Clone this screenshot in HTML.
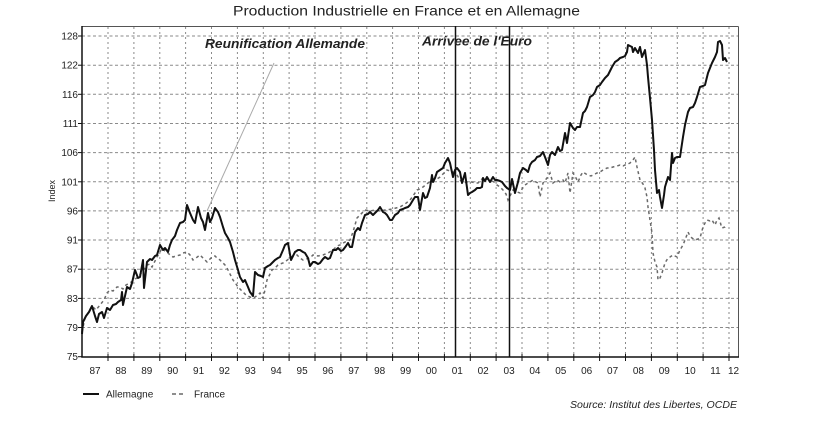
<!DOCTYPE html>
<html><head><meta charset="utf-8"><style>
html,body{margin:0;padding:0;background:#fff;}
svg{display:block;}
text{font-family:"Liberation Sans",Arial,sans-serif;fill:#222;}
</style></head><body>
<svg width="817" height="436" viewBox="0 0 817 436" xmlns="http://www.w3.org/2000/svg">
<rect width="817" height="436" fill="#fff"/>
<text x="406.5" y="15.5" font-size="14" text-anchor="middle" textLength="347" lengthAdjust="spacingAndGlyphs">Production Industrielle en France et en Allemagne</text>

<!-- horizontal grid -->
<g stroke="#8a8a8a" stroke-width="1" stroke-dasharray="3,2.5">
<line x1="82" y1="36" x2="738" y2="36"/>
<line x1="82" y1="65.2" x2="738" y2="65.2"/>
<line x1="82" y1="94.3" x2="738" y2="94.3"/>
<line x1="82" y1="123.5" x2="738" y2="123.5"/>
<line x1="82" y1="152.6" x2="738" y2="152.6"/>
<line x1="82" y1="181.8" x2="738" y2="181.8"/>
<line x1="82" y1="210.9" x2="738" y2="210.9"/>
<line x1="82" y1="240" x2="738" y2="240"/>
<line x1="82" y1="269.2" x2="738" y2="269.2"/>
<line x1="82" y1="298.4" x2="738" y2="298.4"/>
<line x1="82" y1="327.5" x2="738" y2="327.5"/>
</g>
<!-- vertical grid -->
<g stroke="#8a8a8a" stroke-width="1" stroke-dasharray="2,3" id="vg">
<line x1="108" y1="27" x2="108" y2="357"/>
<line x1="133.9" y1="27" x2="133.9" y2="357"/>
<line x1="159.8" y1="27" x2="159.8" y2="357"/>
<line x1="185.6" y1="27" x2="185.6" y2="357"/>
<line x1="211.5" y1="27" x2="211.5" y2="357"/>
<line x1="237.4" y1="27" x2="237.4" y2="357"/>
<line x1="263.3" y1="27" x2="263.3" y2="357"/>
<line x1="289.1" y1="27" x2="289.1" y2="357"/>
<line x1="315" y1="27" x2="315" y2="357"/>
<line x1="340.9" y1="27" x2="340.9" y2="357"/>
<line x1="366.8" y1="27" x2="366.8" y2="357"/>
<line x1="392.6" y1="27" x2="392.6" y2="357"/>
<line x1="418.5" y1="27" x2="418.5" y2="357"/>
<line x1="444.4" y1="27" x2="444.4" y2="357"/>
<line x1="470.3" y1="27" x2="470.3" y2="357"/>
<line x1="496.1" y1="27" x2="496.1" y2="357"/>
<line x1="522" y1="27" x2="522" y2="357"/>
<line x1="547.9" y1="27" x2="547.9" y2="357"/>
<line x1="573.8" y1="27" x2="573.8" y2="357"/>
<line x1="599.6" y1="27" x2="599.6" y2="357"/>
<line x1="625.5" y1="27" x2="625.5" y2="357"/>
<line x1="651.4" y1="27" x2="651.4" y2="357"/>
<line x1="677.3" y1="27" x2="677.3" y2="357"/>
<line x1="703.1" y1="27" x2="703.1" y2="357"/>
<line x1="729" y1="27" x2="729" y2="357"/>
</g>

<!-- borders -->
<line x1="82" y1="26.5" x2="738.5" y2="26.5" stroke="#555" stroke-width="1"/>
<line x1="738.5" y1="26.5" x2="738.5" y2="357" stroke="#555" stroke-width="1"/>

<!-- annotation line -->
<line x1="207" y1="211" x2="274" y2="63" stroke="#aaa" stroke-width="1"/>

<!-- France -->
<polyline fill="none" stroke="#6a6a6a" stroke-width="1.5" stroke-dasharray="3,3" points="82,332 85,318 88,313 92,306 96,310 100,305 104,300 107,293 110,290 113,291 117,287 120,287 123,289 126,285 130,283 134,280 138,277 142,272 145,268 147,265 150,264 152,267 155,261 157,257 160,252 162,248 165,251 167,252 170,255 173,257 176,256 180,255 183,253 187,252 190,255 193,260 196,258 200,255 203,258 207,262 210,259 212,257 215,256 217,258 220,260 222,262 225,265 227,268 230,274 233,280 236,284 238,287 241,290 243,292 246,295 250,297 253,298 255,297 258,295 260,293 262,297 263,298 265,290 267,280 270,274 272,270 275,268 278,265 280,264 283,263 286,261 290,258 293,256 297,255 300,258 303,260 306,259 310,258 313,255 318,256 323,255 328,253 333,250 337,246 340,245 345,242 350,240 353,232 357,218 360,215 365,210 370,211 375,210 380,211 385,210 387,210 392,209 396,208 400,207 405,204 410,200 413,196 417,190 420,189 423,187 428,183 433,180 437,179 440,177 443,174 447,170 450,171 453,172 457,175 460,180 463,183 467,182 472,182 475,183 478,183 481,180 483,178 487,179 490,180 494,182 497,185 500,187 503,190 506,194 508,200 510,196 513,190 517,192 520,193 522,189 525,185 528,183 530,182 533,180 536,182 538,183 540,197 543,183 547,178 550,173 553,183 557,180 560,182 563,180 565,183 568,173 570,193 573,173 576,178 578,182 581,175 583,172 586,174 588,175 591,176 593,175 597,173 600,172 603,170 607,168 610,168 613,167 617,166 620,165 623,166 625,165 628,164 630,163 633,160 635,157 637,167 640,180 643,184 645,188 647,197 648,207 650,220 652,233 653,253 655,262 657,267 658,280 660,278 662,273 665,263 668,258 670,257 673,255 675,256 677,257 680,250 683,245 685,240 688,232 690,236 692,238 695,240 698,239 700,238 703,227 705,223 707,220 710,221 712,220 715,225 717,220 719,218 721,225 722,228 725,227 727,225"/>

<!-- Allemagne -->
<polyline fill="none" stroke="#111" stroke-width="2" stroke-linejoin="round" points="82,334 83,322 86,316 89,312 92,306 95,316 97,322 99,314 102,312 104,318 107,308 110,310 113,305 116,304 118,302 121,300 122,292 123,305 125,296 127,287 130,289 132,283 135,270 138,278 140,277 143,260 144,288 147,262 150,259 152,260 155,256 157,255 160,245 163,250 165,248 168,252 170,245 172,240 175,236 177,230 180,223 183,222 185,220 187,205 190,213 193,220 195,223 198,207 201,218 203,222 205,230 208,213 210,222 212,218 215,208 218,212 220,217 223,227 225,233 228,238 230,242 233,252 235,260 238,270 240,277 243,282 245,280 248,287 250,292 253,296 255,272 258,275 261,276 263,277 265,268 268,266 270,265 273,262 275,260 278,258 280,257 283,250 285,245 288,243 291,260 293,256 295,252 298,250 300,250 303,252 305,253 308,258 310,266 313,262 315,262 318,264 320,263 323,259 325,257 328,259 330,258 333,250 336,250 338,248 341,251 343,250 346,246 348,243 350,247 352,247 355,232 358,228 360,230 362,223 365,215 368,214 370,212 373,215 375,213 378,210 380,207 383,212 385,213 387,215 390,220 392,220 395,215 398,213 400,210 403,209 405,208 408,207 410,205 413,200 415,197 418,197 420,210 423,193 425,198 427,197 430,188 432,175 433,182 435,178 437,172 440,170 443,168 445,163 448,158 450,163 453,177 455,170 457,168 460,172 462,183 465,173 468,195 470,193 472,192 475,190 477,188 480,188 482,187 483,178 485,181 487,177 490,182 493,177 495,180 497,180 500,181 502,182 505,186 507,188 510,190 512,179 515,193 518,182 520,173 523,168 526,170 528,172 530,165 532,162 535,160 537,157 540,156 543,152 545,157 548,165 550,155 552,152 555,155 558,147 560,151 562,150 565,133 567,143 570,123 573,128 575,130 577,127 580,127 583,113 585,111 587,107 590,97 593,95 595,92 597,87 600,85 602,82 605,78 608,75 610,71 612,67 615,62 618,60 620,58 623,57 625,56 627,52 628,45 630,46 632,47 633,52 635,48 638,53 640,47 642,57 645,50 647,65 648,77 650,98 652,120 654,150 655,170 657,193 659,190 660,197 662,208 664,195 665,187 668,177 670,180 672,153 673,163 675,158 677,157 680,157 683,137 685,125 688,112 690,108 693,107 695,103 697,97 700,87 703,86 705,85 708,73 710,68 712,63 715,57 717,52 718,42 720,41 722,45 723,60 725,58 727,62"/>

<!-- event lines -->
<line x1="455.5" y1="26" x2="455.5" y2="357" stroke="#111" stroke-width="1.5"/>
<line x1="509.5" y1="26" x2="509.5" y2="357" stroke="#111" stroke-width="1.5"/>

<!-- axes -->
<line x1="82" y1="26" x2="82" y2="357.5" stroke="#111" stroke-width="1.5"/>
<line x1="81.3" y1="357" x2="739" y2="357" stroke="#111" stroke-width="1.5"/>

<!-- y ticks -->
<g stroke="#111" stroke-width="1">
<line x1="78" y1="36" x2="82" y2="36"/><line x1="78" y1="65.2" x2="82" y2="65.2"/><line x1="78" y1="94.3" x2="82" y2="94.3"/><line x1="78" y1="123.5" x2="82" y2="123.5"/><line x1="78" y1="152.6" x2="82" y2="152.6"/><line x1="78" y1="181.8" x2="82" y2="181.8"/><line x1="78" y1="210.9" x2="82" y2="210.9"/><line x1="78" y1="240" x2="82" y2="240"/><line x1="78" y1="269.2" x2="82" y2="269.2"/><line x1="78" y1="298.4" x2="82" y2="298.4"/><line x1="78" y1="327.5" x2="82" y2="327.5"/><line x1="78" y1="356.7" x2="82" y2="356.7"/>
</g>
<g font-size="10" text-anchor="end">
<text x="78" y="39.5">128</text>
<text x="78" y="68.7">122</text>
<text x="78" y="97.8">116</text>
<text x="78" y="127">111</text>
<text x="78" y="156.1">106</text>
<text x="78" y="185.3">101</text>
<text x="78" y="214.4">96</text>
<text x="78" y="243.5">91</text>
<text x="78" y="272.7">87</text>
<text x="78" y="301.9">83</text>
<text x="78" y="331">79</text>
<text x="78" y="360.2">75</text>
</g>
<text x="0" y="0" font-size="9" text-anchor="middle" transform="translate(55,191) rotate(-90)">Index</text>

<!-- x ticks -->
<g stroke="#111" stroke-width="1">
<line x1="108" y1="354" x2="108" y2="361"/><line x1="133.9" y1="354" x2="133.9" y2="361"/><line x1="159.8" y1="354" x2="159.8" y2="361"/><line x1="185.6" y1="354" x2="185.6" y2="361"/><line x1="211.5" y1="354" x2="211.5" y2="361"/><line x1="237.4" y1="354" x2="237.4" y2="361"/><line x1="263.3" y1="354" x2="263.3" y2="361"/><line x1="289.1" y1="354" x2="289.1" y2="361"/><line x1="315" y1="354" x2="315" y2="361"/><line x1="340.9" y1="354" x2="340.9" y2="361"/><line x1="366.8" y1="354" x2="366.8" y2="361"/><line x1="392.6" y1="354" x2="392.6" y2="361"/><line x1="418.5" y1="354" x2="418.5" y2="361"/><line x1="444.4" y1="354" x2="444.4" y2="361"/><line x1="470.3" y1="354" x2="470.3" y2="361"/><line x1="496.1" y1="354" x2="496.1" y2="361"/><line x1="522" y1="354" x2="522" y2="361"/><line x1="547.9" y1="354" x2="547.9" y2="361"/><line x1="573.8" y1="354" x2="573.8" y2="361"/><line x1="599.6" y1="354" x2="599.6" y2="361"/><line x1="625.5" y1="354" x2="625.5" y2="361"/><line x1="651.4" y1="354" x2="651.4" y2="361"/><line x1="677.3" y1="354" x2="677.3" y2="361"/><line x1="703.1" y1="354" x2="703.1" y2="361"/><line x1="729" y1="354" x2="729" y2="361"/>
</g>
<g font-size="10" text-anchor="middle">
<text x="95" y="374">87</text><text x="120.9" y="374">88</text><text x="146.8" y="374">89</text><text x="172.7" y="374">90</text><text x="198.6" y="374">91</text><text x="224.4" y="374">92</text><text x="250.3" y="374">93</text><text x="276.2" y="374">94</text><text x="302.1" y="374">95</text><text x="327.9" y="374">96</text><text x="353.8" y="374">97</text><text x="379.7" y="374">98</text><text x="405.6" y="374">99</text><text x="431.4" y="374">00</text><text x="457.3" y="374">01</text><text x="483.2" y="374">02</text><text x="509.1" y="374">03</text><text x="534.9" y="374">04</text><text x="560.8" y="374">05</text><text x="586.7" y="374">06</text><text x="612.6" y="374">07</text><text x="638.4" y="374">08</text><text x="664.3" y="374">09</text><text x="690.2" y="374">10</text><text x="715.5" y="374">11</text><text x="733.5" y="374">12</text>
</g>

<!-- annotations -->
<text x="205" y="48" font-size="13" font-weight="bold" font-style="italic" textLength="160" lengthAdjust="spacingAndGlyphs">Reunification Allemande</text>
<text x="422" y="45.5" font-size="13" font-weight="bold" font-style="italic" textLength="110" lengthAdjust="spacingAndGlyphs">Arrivee de l'Euro</text>

<!-- legend -->
<line x1="83" y1="394" x2="99" y2="394" stroke="#111" stroke-width="2"/>
<text x="106" y="397.5" font-size="10">Allemagne</text>
<line x1="172" y1="394" x2="176" y2="394" stroke="#444" stroke-width="1.2"/>
<line x1="179" y1="394" x2="183" y2="394" stroke="#444" stroke-width="1.2"/>
<text x="194" y="397.5" font-size="10">France</text>

<text x="737" y="408" font-size="10.5" font-style="italic" text-anchor="end" textLength="167" lengthAdjust="spacingAndGlyphs">Source: Institut des Libertes, OCDE</text>
</svg>
</body></html>
